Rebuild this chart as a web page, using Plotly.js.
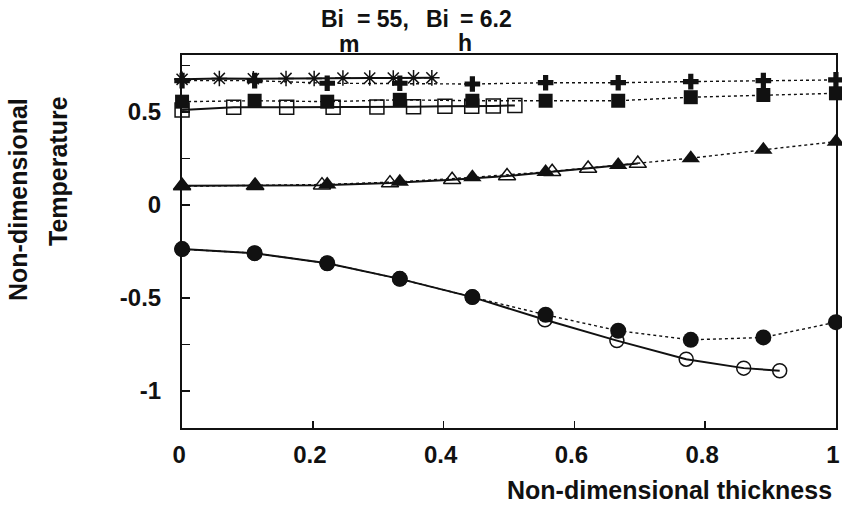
<!DOCTYPE html>
<html>
<head>
<meta charset="utf-8">
<script src="https://cdn.plot.ly/plotly-3.0.1.min.js"></script>
<style>html,body{margin:0;padding:0;background:#fff;}#chart{width:842px;height:507px;}</style>
</head>
<body>
<div id="chart"></div>
<script>
// Grid of the filled-marker series (x = 0 .. 1 in ninths)
const xGrid = [0, 0.111, 0.222, 0.333, 0.444, 0.556, 0.667, 0.778, 0.889, 1];

// Asterisks (solid line)
const xAsterisk = [0, 0.057, 0.109, 0.159, 0.202, 0.246, 0.287, 0.323, 0.354, 0.382];
const yAsterisk = [0.675, 0.68, 0.678, 0.68, 0.68, 0.682, 0.682, 0.682, 0.683, 0.683];
// Filled crosses (dotted line)
const yCross = [0.668, 0.668, 0.654, 0.654, 0.65, 0.657, 0.657, 0.663, 0.668, 0.672];

// Open squares (solid) and filled squares (dotted)
const xSquareOpen = [0, 0.079, 0.16, 0.231, 0.298, 0.354, 0.402, 0.443, 0.476, 0.509];
const ySquareOpen = [0.51, 0.525, 0.525, 0.525, 0.527, 0.528, 0.53, 0.53, 0.532, 0.535];
const ySquareFilled = [0.555, 0.56, 0.555, 0.565, 0.56, 0.56, 0.56, 0.579, 0.591, 0.60];

// Open triangles (solid) and filled triangles (dotted)
const xTriOpen = [0, 0.112, 0.214, 0.318, 0.413, 0.497, 0.566, 0.621, 0.697];
const yTriOpen = [0.103, 0.103, 0.106, 0.117, 0.135, 0.155, 0.178, 0.196, 0.222];
const yTriFilled = [0.10, 0.105, 0.11, 0.124, 0.148, 0.177, 0.214, 0.251, 0.296, 0.34];

// Open circles (solid) and filled circles (dotted)
const xCircOpen = [0, 0.111, 0.222, 0.333, 0.444, 0.555, 0.665, 0.771, 0.859, 0.914];
const yCircOpen = [-0.238, -0.26, -0.314, -0.398, -0.496, -0.618, -0.73, -0.83, -0.878, -0.892];
const yCircFilled = [-0.238, -0.26, -0.314, -0.398, -0.496, -0.591, -0.677, -0.726, -0.713, -0.631];

// Axis ticks
const xTickVals = [0, 0.2, 0.4, 0.6, 0.8, 1];
const xTickText = ['0', '0.2', '0.4', '0.6', '0.8', '1'];
const yTickVals = [-1, -0.75, -0.5, -0.25, 0, 0.25, 0.5, 0.75];
const yTickText = ['-1', '', '-0.5', '', '0', '', '0.5', ''];

const FONT = 'Liberation Sans, Arial, Helvetica, sans-serif';
const BLACK = '#111';

function solid(x, y, symbol, size) {
  return {x: x, y: y, type: 'scatter', mode: 'lines+markers', cliponaxis: false,
    line: {color: BLACK, width: 2},
    marker: {symbol: symbol, size: size, color: BLACK, line: {color: BLACK, width: 1.5}}};
}
function dotted(x, y, symbol, size) {
  return {x: x, y: y, type: 'scatter', mode: 'lines+markers', cliponaxis: false,
    line: {color: BLACK, width: 1.4, dash: 'dot'},
    marker: {symbol: symbol, size: size, color: BLACK, line: {color: BLACK, width: 0}}};
}

const traces = [
  solid(xAsterisk, yAsterisk, 'asterisk-open', 13),
  dotted(xGrid, yCross, 'cross', 13),
  solid(xSquareOpen, ySquareOpen, 'square-open', 14),
  dotted(xGrid, ySquareFilled, 'square', 14),
  solid(xTriOpen, yTriOpen, 'triangle-up-open', 15),
  dotted(xGrid, yTriFilled, 'triangle-up', 16),
  solid(xCircOpen, yCircOpen, 'circle-open', 14),
  dotted(xGrid, yCircFilled, 'circle', 16)
];

const L = 182, R = 836, T = 55, B = 428;
function px(v) { return (v - L) / (R - L); }
function py(v) { return (B - v) / (B - T); }
const tf = {family: FONT, size: 23, color: BLACK, weight: 'bold'};
const af = {family: FONT, size: 25, color: BLACK, weight: 'bold'};

const annotations = [
  {text: 'Bi', x: px(319), y: py(19), xanchor: 'left', yanchor: 'middle', font: tf},
  {text: '= 55,', x: px(355), y: py(19), xanchor: 'left', yanchor: 'middle', font: tf},
  {text: 'Bi', x: px(424), y: py(19), xanchor: 'left', yanchor: 'middle', font: tf},
  {text: '= 6.2', x: px(458), y: py(19), xanchor: 'left', yanchor: 'middle', font: tf},
  {text: 'm', x: px(349), y: py(44), xanchor: 'center', yanchor: 'middle', font: tf},
  {text: 'h', x: px(465), y: py(43), xanchor: 'center', yanchor: 'middle', font: tf},
  {text: 'Non-dimensional', textangle: -90, x: px(18), y: py(200), xanchor: 'center', yanchor: 'middle', font: af},
  {text: 'Temperature', textangle: -90, x: px(58), y: py(171), xanchor: 'center', yanchor: 'middle', font: af},
  {text: 'Non-dimensional thickness', x: px(834), y: py(490), xanchor: 'right', yanchor: 'middle', font: af}
].map(a => Object.assign({xref: 'paper', yref: 'paper', showarrow: false}, a));

const layout = {
  width: 842, height: 507,
  margin: {l: L, r: 842 - R, t: T, b: 507 - B, pad: 0},
  paper_bgcolor: '#fff', plot_bgcolor: '#fff',
  showlegend: false,
  font: {family: FONT, color: BLACK, weight: 'bold'},
  xaxis: {range: [-0.0001, 1.0001], tickvals: xTickVals, ticktext: xTickText, ticks: 'inside', ticklen: 7,
    tickwidth: 1.5, tickcolor: BLACK, showline: true, linewidth: 2, linecolor: BLACK, mirror: true,
    showgrid: false, zeroline: false, ticklabelstandoff: 4, ticklabelshift: -3, ticklabeloverflow: 'allow',
    tickfont: {family: FONT, size: 24, color: BLACK, weight: 'bold'}},
  yaxis: {range: [-1.2, 0.806], tickvals: yTickVals, ticktext: yTickText, ticks: 'inside', ticklen: 8,
    tickwidth: 1.5, tickcolor: BLACK, showline: true, linewidth: 2, linecolor: BLACK, mirror: true,
    showgrid: false, zeroline: false, ticklabelstandoff: 14,
    tickfont: {family: FONT, size: 24, color: BLACK, weight: 'bold'}},
  annotations: annotations
};

Plotly.newPlot('chart', traces, layout, {staticPlot: true, displayModeBar: false});
</script>
</body>
</html>
